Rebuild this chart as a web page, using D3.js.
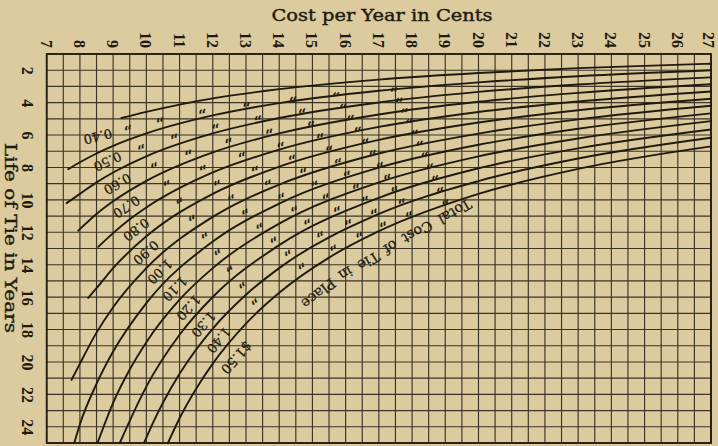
<!DOCTYPE html>
<html>
<head>
<meta charset="utf-8">
<script src="https://cdn.jsdelivr.net/npm/d3@7"></script>
<style>
  html, body { margin: 0; padding: 0; background: #dbcb9f; }
  svg { display: block; }
</style>
</head>
<body>
<svg id="chart" width="718" height="446"></svg>
<script>
// Yearly cost of a cross-tie (cents per year) against its life in years,
// one curve for each total cost of the tie in place.

const centTicks = d3.range(7, 28);          // 7 … 27 cents
const yearTicks = d3.range(2, 25, 2);       // 2 … 24 years
const totalCosts = ["0.40", "0.50", "0.60", "0.70", "0.80", "0.90",
                    "1.00", "1.10", "1.20", "1.30", "1.40", "1.50"];

// [cents per year, life in years] along each curve
const tie040 = [[9.25, 4.95], [10, 4.57], [11, 4.12], [12, 3.74], [14, 3.17], [17, 2.58], [20, 2.17], [23, 1.87], [27, 1.6]];
const tie050 = [[7.65, 8.1], [8, 7.68], [8.5, 7.14], [9, 6.67], [10, 5.9], [12, 4.79], [14, 4.03], [17, 3.27], [20, 2.75], [23, 2.37], [27, 2.0]];
const tie060 = [[7.6, 10.2], [8, 9.63], [8.5, 8.92], [9, 8.31], [10, 7.31], [12, 5.9], [14, 4.95], [17, 3.99], [20, 3.34], [23, 2.88], [27, 2.44]];
const tie070 = [[7.95, 11.9], [8.5, 10.87], [9, 10.09], [10, 8.83], [12, 7.07], [14, 5.9], [17, 4.73], [20, 3.95], [23, 3.4], [27, 2.87]];
const tie080 = [[8.55, 12.9], [9, 12.05], [9.5, 11.2], [10, 10.47], [12, 8.31], [14, 6.9], [17, 5.5], [20, 4.58], [23, 3.93], [27, 3.31]];
const tie090 = [[8.25, 16.05], [8.5, 15.45], [9, 14.21], [10, 12.25], [12, 9.63], [14, 7.95], [17, 6.3], [20, 5.23], [23, 4.47], [27, 3.76]];
const tie100 = [[7.75, 21.1], [8, 20.1], [8.5, 18.19], [9, 16.62], [10, 14.21], [12, 11.05], [14, 9.06], [17, 7.14], [20, 5.91], [23, 5.03], [27, 4.19]];
const tie110 = [[7.83, 25], [8, 23.84], [8.5, 21.35], [9, 19.36], [10, 16.37], [12, 12.57], [14, 10.23], [17, 8.01], [20, 6.6], [23, 5.61], [27, 4.66]];
const tie120 = [[8.53, 25], [9, 22.52], [9.5, 20.47], [10, 18.78], [11, 16.16], [12, 14.21], [14, 11.47], [17, 8.92], [20, 7.32], [23, 6.21], [27, 5.14]];
const tie130 = [[9.2, 25], [9.5, 23.63], [10, 21.52], [11, 18.32], [12, 15.99], [14, 12.79], [17, 9.87], [20, 8.05], [23, 6.82], [27, 5.66]];
const tie140 = [[9.93, 25], [10.2, 23.76], [10.5, 22.52], [11, 20.73], [12, 17.94], [13, 15.85], [14, 14.21], [17, 10.87], [20, 8.84], [23, 7.45], [27, 6.17]];
const tie150 = [[10.65, 25], [11, 23.47], [11.5, 21.65], [12, 20.1], [13, 17.63], [14, 15.73], [15.5, 13.56], [17, 11.93], [20, 9.63], [23, 8.09], [27, 6.7]];

const curves = [tie040, tie050, tie060, tie070, tie080, tie090,
                tie100, tie110, tie120, tie130, tie140, tie150]
  .map((pts, i) => ({ cost: totalCosts[i], pts }));

// Caption of the $1.50 curve, set on its own baseline [cents, years], and its price figure
const captionText = "Total Cost of Tie in Place";
const captionLine = [[19.75, 9.83], [18.98, 10.73], [18.02, 11.78], [17.23, 12.71],
                     [16.57, 13.57], [15.79, 14.44], [14.86, 15.92], [14.33, 16.74]];
const captionPriceAt = [12.72, 19.75];

// Ditto marks stand under the caption's words on the other curves: cents along the first
// and the last curve, lines between spaced evenly; the last column stands under "$".
const dittoCentsFirst = [17.43, 15.68, 14.38, 12.97, 11.62, 10.33, 9.36];
const dittoCentsLast  = [19.05, 18.0, 17.25, 16.6, 15.85, 14.9, 13.4];
// Cents at which each curve's own price figure is set (curves $0.40 … $1.40)
const valueCents = [8.45, 8.68, 8.95, 9.2, 9.47, 9.75, 10.15, 10.6, 11.0, 11.45, 11.9];

// ---------------------------------------------------------------------------
const W = 718, H = 446;
const paper = "#dbcb9f", ink = "#211a0f", gridInk = "#3d3424";
const serif = "'DejaVu Serif', 'Liberation Serif', serif";
const numFont = "'Liberation Serif', 'DejaVu Serif', serif";

const x = d3.scaleLinear().domain([7, 27]).range([46.7, 711]);
const y = d3.scaleLinear().domain([1, 25]).range([54, 443]);

const svg = d3.select("#chart");
svg.append("rect").attr("width", W).attr("height", H).attr("fill", paper);

// ruled grid: half-cent columns, one-year rows
const grid = svg.append("g");
grid.selectAll("line.v").data(d3.range(7, 27.001, 0.5)).join("line")
  .attr("class", "v")
  .attr("x1", d => x(d)).attr("x2", d => x(d))
  .attr("y1", y(1)).attr("y2", y(25))
  .attr("stroke", gridInk).attr("stroke-width", 1.15);
grid.selectAll("line.h").data(d3.range(1, 25.001, 1)).join("line")
  .attr("class", "h")
  .attr("x1", x(7)).attr("x2", x(27))
  .attr("y1", d => y(d)).attr("y2", d => y(d))
  .attr("stroke", gridInk).attr("stroke-width", 1.15);
grid.append("rect")
  .attr("x", x(7)).attr("y", y(1))
  .attr("width", x(27) - x(7)).attr("height", y(25) - y(1))
  .attr("fill", "none").attr("stroke", ink).attr("stroke-width", 1.8);

// top axis: cents per year, figures turned on their side
const centAxis = svg.append("g").attr("transform", `translate(0,${y(1)})`)
  .call(d3.axisTop(x).tickValues(centTicks).tickSize(0).tickFormat(d3.format("d")));
centAxis.select(".domain").remove();
centAxis.selectAll("text")
  .attr("transform", d => `translate(${d === 27 ? -3 : -1},0) rotate(90)`)
  .attr("x", -6).attr("y", 0).attr("dy", "0.34em")
  .attr("text-anchor", "end")
  .attr("font-family", numFont).attr("font-weight", "bold")
  .attr("font-size", 16).attr("fill", ink);

// left axis: life in years
const yearAxis = svg.append("g").attr("transform", `translate(${x(7)},0)`)
  .call(d3.axisLeft(y).tickValues(yearTicks).tickSize(0).tickFormat(d3.format("d")));
yearAxis.select(".domain").remove();
yearAxis.selectAll("text")
  .attr("transform", "translate(-19,0) rotate(90)")
  .attr("x", 0).attr("y", 0).attr("dy", "0.34em")
  .attr("text-anchor", "middle")
  .attr("font-family", numFont).attr("font-weight", "bold")
  .attr("font-size", 16).attr("fill", ink);

// axis titles
svg.append("text")
  .attr("x", 382).attr("y", 21)
  .attr("text-anchor", "middle")
  .attr("font-family", serif).attr("font-size", 16).attr("fill", ink)
  .attr("stroke", ink).attr("stroke-width", 0.4)
  .attr("textLength", 221).attr("lengthAdjust", "spacingAndGlyphs")
  .text("Cost per Year in Cents");
svg.append("text")
  .attr("transform", "translate(10,238) rotate(90)")
  .attr("text-anchor", "middle").attr("dy", "0.34em")
  .attr("font-family", serif).attr("font-size", 16).attr("fill", ink)
  .attr("stroke", ink).attr("stroke-width", 0.4)
  .attr("textLength", 190).attr("lengthAdjust", "spacingAndGlyphs")
  .text("Life of Tie in Years");

// curves
const line = d3.line().x(d => x(d[0])).y(d => y(d[1])).curve(d3.curveMonotoneX);
const paths = svg.append("g").selectAll("path").data(curves).join("path")
  .attr("d", d => line(d.pts))
  .attr("fill", "none").attr("stroke", ink)
  .attr("stroke-width", 1.9).attr("stroke-linecap", "round");

// point on a curve at a given screen x, with its tangent angle
function locate(node, px) {
  const L = node.getTotalLength();
  const p0 = node.getPointAtLength(0);
  if (px <= p0.x) {
    const p1 = node.getPointAtLength(4);
    const a = Math.atan2(p1.y - p0.y, p1.x - p0.x);
    return { x: px, y: p0.y + (px - p0.x) * Math.tan(a), a };
  }
  let lo = 0, hi = L;
  for (let i = 0; i < 32; i++) {
    const m = (lo + hi) / 2;
    if (node.getPointAtLength(m).x < px) lo = m; else hi = m;
  }
  const l = (lo + hi) / 2;
  const p = node.getPointAtLength(l);
  const pa = node.getPointAtLength(Math.max(0, l - 3));
  const pb = node.getPointAtLength(Math.min(L, l + 3));
  return { x: p.x, y: p.y, a: Math.atan2(pb.y - pa.y, pb.x - pa.x) };
}

// lettering is set upside down beneath each curve
const labels = svg.append("g").attr("fill", ink);
function letter(px, py, angle, txt, size, weight) {
  labels.append("text")
    .attr("transform", `translate(${px},${py}) rotate(${angle * 180 / Math.PI + 180})`)
    .attr("text-anchor", "middle").attr("dominant-baseline", "central")
    .attr("font-family", serif).attr("font-size", size)
    .attr("font-weight", weight || "normal")
    .attr("stroke", ink).attr("stroke-width", weight ? 0 : 0.25)
    .text(txt);
}
function under(node, cents, gap, txt, size, weight) {
  const p = locate(node, x(cents));
  letter(p.x - gap * Math.sin(p.a), p.y + gap * Math.cos(p.a), p.a, txt, size, weight);
}

const n = curves.length - 1;
paths.each(function (d, i) {
  if (i === n) return;
  const t = i / n;
  dittoCentsFirst.forEach((c0, k) => {
    const c = c0 + (dittoCentsLast[k] - c0) * t;
    under(this, c, 7, "\u201D", 15, "bold");
  });
  under(this, valueCents[i], 12, d.cost, 13);
});

// caption of the $1.50 curve, running right to left so it reads upside down
const capLine = d3.line().x(d => x(d[0])).y(d => y(d[1])).curve(d3.curveNatural);
svg.append("defs").append("path")
  .attr("id", "caption-line")
  .attr("d", capLine(captionLine));
labels.append("text")
  .attr("font-family", serif).attr("font-size", 14.2)
  .attr("word-spacing", "3.5px")
  .attr("stroke", ink).attr("stroke-width", 0.25)
  .append("textPath")
  .attr("href", "#caption-line")
  .attr("startOffset", 3)
  .text(captionText);
const lastNode = paths.nodes()[n];
const priceA = locate(lastNode, x(captionPriceAt[0])).a;
letter(x(captionPriceAt[0]), y(captionPriceAt[1]), priceA, "$" + curves[n].cost, 13.5);
</script>
</body>
</html>
